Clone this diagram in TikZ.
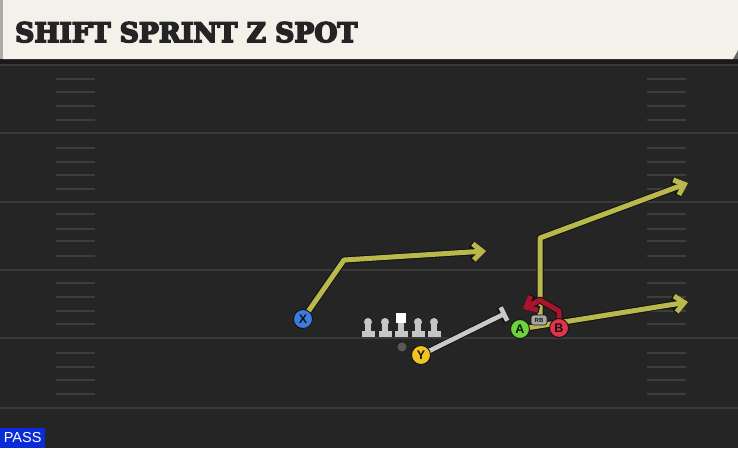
\documentclass[tikz,border=0pt]{standalone}
\usepackage{fontspec}
\setmainfont{Liberation Sans}
\newfontfamily\titlefont{DejaVu Serif}
\usetikzlibrary{arrows.meta}
\definecolor{field}{HTML}{252525}
\definecolor{hdrdark}{HTML}{1A1A1A}
\definecolor{cream}{HTML}{F4F1EB}
\definecolor{hdrgray}{HTML}{A9ABA6}
\definecolor{titleink}{HTML}{242424}
\definecolor{yardline}{HTML}{3A3A3A}
\definecolor{hashline}{HTML}{3D3D3D}
\definecolor{routeyellow}{HTML}{B9B84C}
\definecolor{routered}{HTML}{A9142C}
\definecolor{blockgray}{HTML}{C9C9C9}
\definecolor{outlinec}{HTML}{121212}
\definecolor{xblue}{HTML}{3C7BE0}
\definecolor{yyellow}{HTML}{F0C420}
\definecolor{agreen}{HTML}{6DD33C}
\definecolor{bred}{HTML}{E23449}
\definecolor{passblue}{HTML}{0A2BD8}
\definecolor{linegray}{HTML}{C6C6C6}
\newcommand{\heavytext}[1]{\special{pdf:literal direct 2 Tr 0.6 w}#1\special{pdf:literal direct 0 Tr}}
\tikzset{
  yard/.style={draw=yardline, line width=2pt},
  hashmark/.style={draw=hashline, line width=1.5pt},
  player/.style={circle, draw=outlinec, line width=0.9pt, minimum size=19pt, inner sep=0pt,
    font=\fontsize{12.5}{12.5}\selectfont\bfseries, text=outlinec},
  routeout/.style={draw=outlinec, line width=7pt, line join=round,
    -{Straight Barb[length=9pt,width=16pt]}},
  routein/.style={draw=#1, line width=5pt, line join=round,
    -{Straight Barb[length=9pt,width=16pt]}},
  blockout/.style={draw=outlinec, line width=6.5pt, -{Bar[width=17pt]}},
  blockin/.style={draw=blockgray, line width=4.6pt, -{Bar[width=15pt]}},
  lineman/.style={fill=linegray},
}
\begin{document}
\begin{tikzpicture}[x=1pt,y=-1pt]
\useasboundingbox (0,0) rectangle (738,448);
\fill[field] (0,0) rectangle (738,448);
% header
\fill[hdrdark] (0,59) rectangle (738,64);
\fill[hdrgray!60!black] (730,59) -- (738,50) -- (738,59) -- cycle;
\fill[cream] (3,0) -- (738,0) -- (738,50) -- (733,59) -- (3,59) -- cycle;
\fill[hdrgray] (0,0) rectangle (3,59);
\node[anchor=base west, inner sep=0pt, text=titleink] (title) at (15,42)
  {\resizebox{342pt}{20pt}{\titlefont\bfseries\heavytext{SHIFT SPRINT Z SPOT}}};
% yard lines
\foreach \y in {65,133,202,270,338,408} { \draw[yard] (0,\y) -- (738,\y); }
% hash marks
\foreach \y in {79,92,106,120,148,162,175,189,214,229,241,256,283,297,311,324,353,367,380,394} {
  \draw[hashmark] (56,\y) -- (95,\y);
  \draw[hashmark] (647,\y) -- (686,\y);
}
% route coordinates
\coordinate (xs) at (303,319);
\coordinate (xc) at (344,260);
\coordinate (xe) at (486,251);
\coordinate (rs) at (540,322);
\coordinate (rc) at (540,238);
\coordinate (re) at (688,183);
\coordinate (as) at (520,329);
\coordinate (ae) at (688,302);
\coordinate (bs) at (559,328);
\coordinate (b1) at (559,311);
\coordinate (b2) at (540,300);
\coordinate (be) at (523,309);
\coordinate (ys) at (421,355);
\coordinate (ye) at (506,313);
% routes
\draw[routeout] (xs) -- (xc) -- (xe);
\draw[routein=routeyellow] (xs) -- (xc) -- (xe);
\draw[routeout] (rs) -- (rc) -- (re);
\draw[routein=routeyellow] (rs) -- (rc) -- (re);
\draw[routeout] (as) -- (ae);
\draw[routein=routeyellow] (as) -- (ae);
\draw[routeout] (bs) -- (b1) -- (b2) -- (be);
\draw[routein=routered] (bs) -- (b1) -- (b2) -- (be);
\draw[blockout] (ys) -- (ye);
\draw[blockin] (ys) -- (ye);
% offensive line
\foreach \x in {368,385,418,434} {
  \fill[lineman] (\x-6.5,331) rectangle (\x+6.5,337);
  \fill[lineman] (\x-2.8,323) rectangle (\x+2.8,331);
  \fill[lineman] (\x,322) circle (4pt);
}
\fill[lineman] (401-6.5,331) rectangle (401+6.5,337);
\fill[lineman] (401-2.8,323) rectangle (401+2.8,331);
\fill[white] (396,313) rectangle (406,323);
% players
\node[player, fill=xblue] (X) at (xs) {X};
\node[player, fill=yyellow] (Y) at (ys) {Y};
\node[player, fill=agreen] (A) at (as) {A};
\node[player, fill=bred] (B) at (bs) {B};
\node[fill=linegray!85!black, draw=outlinec, line width=0.6pt, rounded corners=2.5pt, minimum width=16pt,
  minimum height=10pt, inner sep=0pt, font=\fontsize{6}{6}\selectfont\bfseries, text=outlinec] (RB) at (539,320) {RB};
\node[circle, fill=gray!70!black, minimum size=9pt, inner sep=0pt] (ball) at (402,347) {};
% play type
\node[anchor=south west, fill=passblue, text=white, minimum width=45pt, minimum height=20pt,
  inner sep=0pt, font=\fontsize{14.5}{14.5}\selectfont] (pass) at (0,448) {PASS};
\end{tikzpicture}
\end{document}
